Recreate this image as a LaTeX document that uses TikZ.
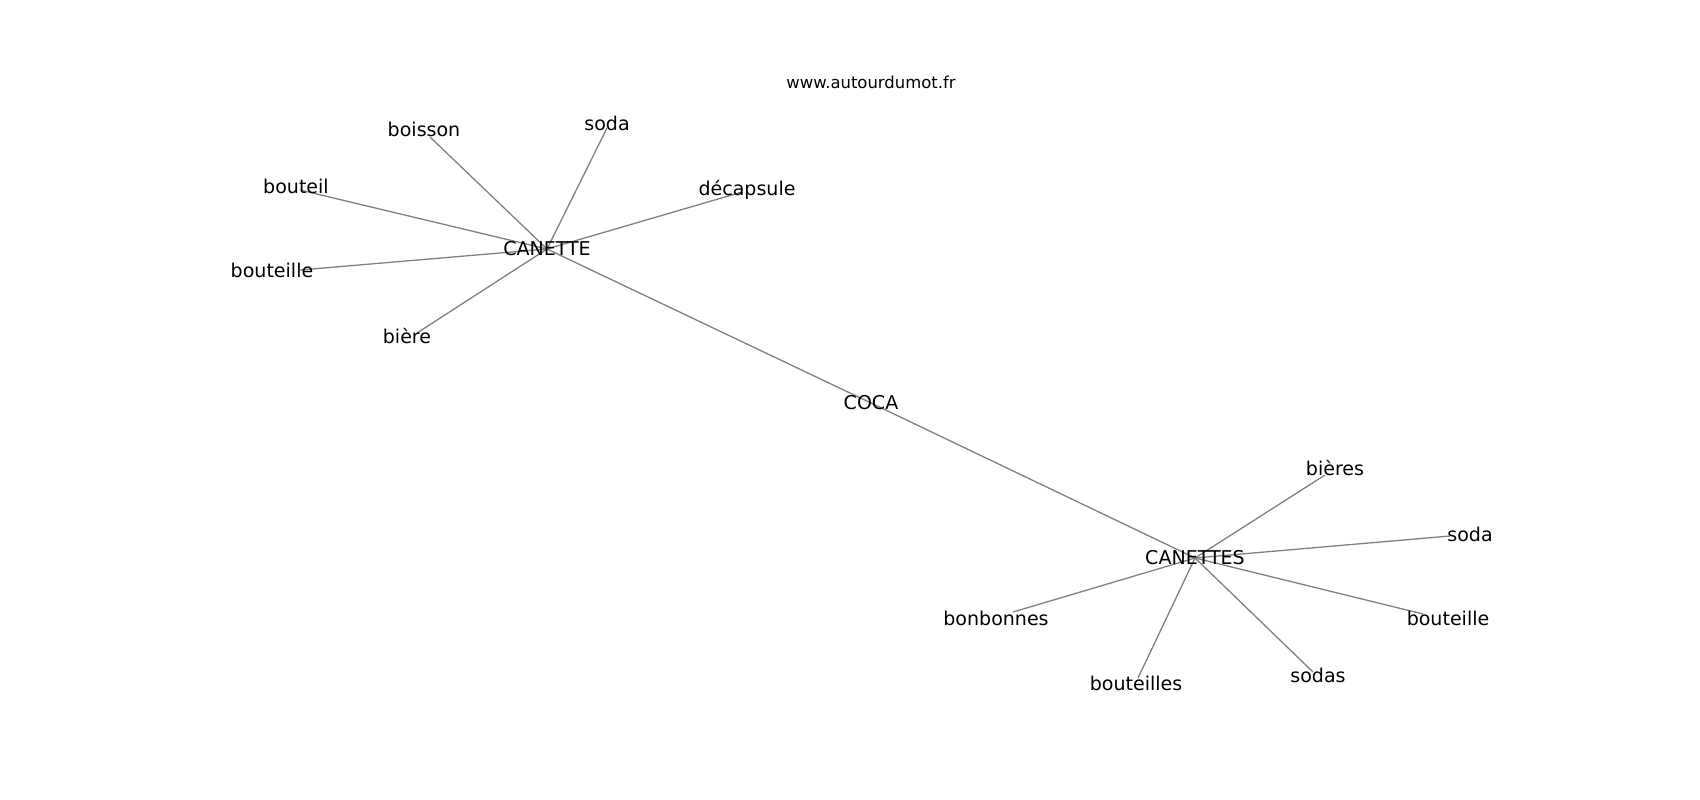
\documentclass[tikz,border=0pt]{standalone}
\usepackage{fontspec}
\setmainfont{DejaVu Sans}
\pgfdeclarelayer{background}
\pgfsetlayers{background,main}
\definecolor{edgegray}{RGB}{128,128,128}
\tikzset{
	word/.style={inner sep=0pt, font=\fontsize{19.1}{22}\selectfont},
	edge/.style={draw=edgegray, line width=1.3bp}
}
\begin{document}
\begin{tikzpicture}[x=1bp, y=-1bp, line join=round, line cap=round]
		\useasboundingbox (0,0) rectangle (1700,800);
		\node[font=\fontsize{16.5}{19}\selectfont] (titre) at (871,82) {www.autourdumot.fr};
		% Noeuds centraux
		\node[word] (canette) at (547,249) {CANETTE};
		\node[word] (coca) at (871,403) {COCA};
		\node[word] (canettes) at (1195,558) {CANETTES};
		\begin{pgfonlayer}{background}
		\draw[edge] (canette.center)--(coca.center)--(canettes.center);
		\end{pgfonlayer}
		% Voisins de CANETTE
		\foreach \n/\px/\py/\lx/\ly/\t in {a1/430/137/424/129/boisson, a2/607/128/607/123/soda,
			a3/300/190/296/186/bouteil, a4/742/192/747/190/décapsule,
			a5/300/270/272/270/bouteille, a6/417/333/407/336/bière}
		{
			\coordinate (\n) at (\px,\py);
			\node[word] (\n-t) at (\lx,\ly) {\t};
			\begin{pgfonlayer}{background}
			\draw[edge] (canette.center)--(\n);
			\end{pgfonlayer}
		}
		% Voisins de CANETTES
		\foreach \n/\px/\py/\lx/\ly/\t in {b1/1325/475/1335/468/bières, b2/1450/536/1470/534/soda,
			b3/1423/614/1448/618/bouteille, b4/1313/672/1318/675/sodas,
			b5/1138/678/1136/683/bouteilles, b6/1013/612/996/618/bonbonnes}
		{
			\coordinate (\n) at (\px,\py);
			\node[word] (\n-t) at (\lx,\ly) {\t};
			\begin{pgfonlayer}{background}
			\draw[edge] (canettes.center)--(\n);
			\end{pgfonlayer}
		}
\end{tikzpicture}
\end{document}
